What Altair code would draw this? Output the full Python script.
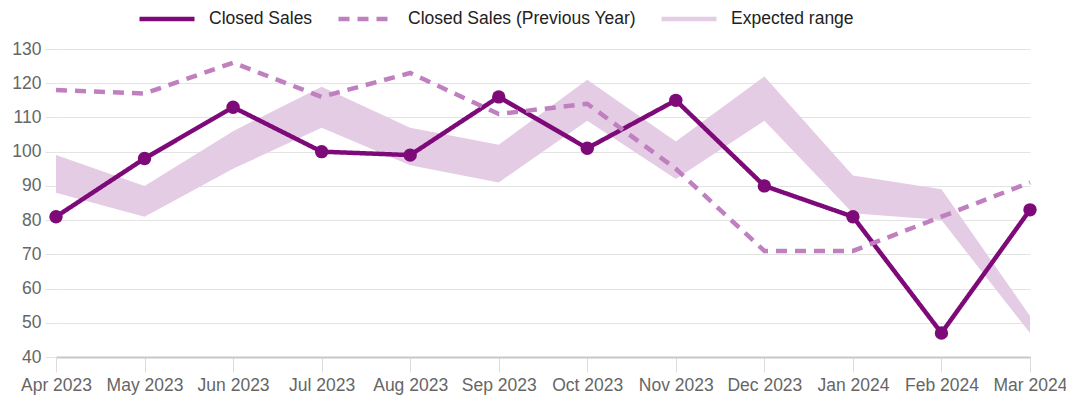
import altair as alt
import pandas as pd

months = ["Apr 2023", "May 2023", "Jun 2023", "Jul 2023", "Aug 2023", "Sep 2023",
          "Oct 2023", "Nov 2023", "Dec 2023", "Jan 2024", "Feb 2024", "Mar 2024"]
closed_sales = [81, 98, 113, 100, 99, 116, 101, 115, 90, 81, 47, 83]
prev_year = [118, 117, 126, 116, 123, 111, 114, 95, 71, 71, 81, 91]
range_low = [88, 81, 95, 107, 96, 91, 109, 92, 109, 82, 80, 47]
range_high = [99, 90, 106, 119, 107, 102, 121, 103, 122, 93, 89, 52]
y_ticks = [40, 50, 60, 70, 80, 90, 100, 110, 120, 130]
series_names = ["Closed Sales", "Closed Sales (Previous Year)", "Expected range"]

FONT = "Liberation Sans, Arial, sans-serif"
colors = ["#7d0a78", "#c080bf", "#e4cce4"]

lines_df = pd.DataFrame(
    [{"month": m, "value": v, "series": series_names[0]} for m, v in zip(months, closed_sales)]
    + [{"month": m, "value": v, "series": series_names[1]} for m, v in zip(months, prev_year)]
)
band_df = pd.DataFrame({"month": months, "low": range_low, "high": range_high,
                        "series": series_names[2]})
points_df = pd.DataFrame({"month": months, "value": closed_sales})

x_enc = alt.X("month:O", sort=months, title=None,
              scale=alt.Scale(type="point", padding=0),
              axis=alt.Axis(labelAngle=0, labelFont=FONT, labelFontSize=17.5, labelColor="#666",
                            tickSize=15, tickColor="#dcdcdc", gridColor="#dcdcdc",
                            domainColor="#c8c8c8", domainWidth=2, labelPadding=4))
y_scale = alt.Scale(domain=[40, 130], nice=False, zero=False)
y_axis = alt.Axis(values=y_ticks, labelFont=FONT, labelFontSize=17.5, labelColor="#666",
                  tickSize=11, tickColor="#e3e3e3", gridColor="#e3e3e3", domain=False,
                  labelPadding=4)

legend = alt.Legend(orient="none", legendX=81, legendY=-60, direction="horizontal",
                    title=None, symbolType="stroke", symbolSize=3025,
                    labelFont=FONT, labelFontSize=17.5, labelColor="#222", labelLimit=400,
                    columnPadding=16, labelOffset=12)
color_enc = alt.Color("series:N", scale=alt.Scale(domain=series_names, range=colors),
                      legend=legend)

band = alt.Chart(band_df).mark_area(opacity=1).encode(
    x=x_enc,
    y=alt.Y("low:Q", scale=y_scale, axis=y_axis, title=None),
    y2="high:Q",
    color=color_enc,
)

lines = alt.Chart(lines_df).mark_line().encode(
    x=x_enc,
    y=alt.Y("value:Q", scale=y_scale, axis=y_axis, title=None),
    color=color_enc,
    strokeDash=alt.StrokeDash("series:N",
                              scale=alt.Scale(domain=series_names,
                                              range=[[1, 0], [11, 8], [1, 0]]),
                              legend=legend),
    strokeWidth=alt.StrokeWidth("series:N",
                                scale=alt.Scale(domain=series_names, range=[4.5, 4.5, 16]),
                                legend=legend),
)

points = alt.Chart(points_df).mark_circle(size=180, opacity=1).encode(
    x=x_enc,
    y=alt.Y("value:Q", scale=y_scale, axis=y_axis, title=None),
    color=alt.value(colors[0]),
)

chart = alt.layer(band, lines, points).properties(
    width=974, height=308,
    autosize=alt.AutoSizeParams(type="none"),
    padding={"left": 56, "top": 49, "right": 36, "bottom": 51},
).configure_view(stroke=None)

chart.save("out.html", embed_options={"renderer": "svg", "actions": False})
